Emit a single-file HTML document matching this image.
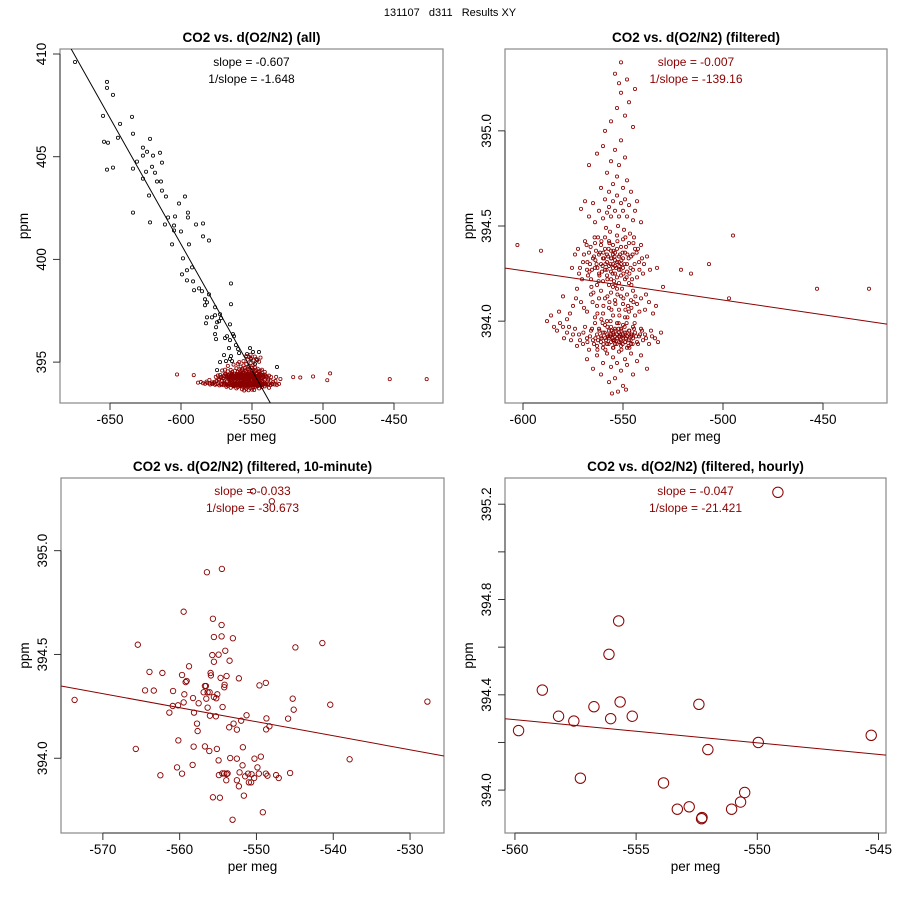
<!DOCTYPE html>
<html><head><meta charset="utf-8">
<style>
html,body{margin:0;padding:0;background:#fff;}
svg{display:block;font-family:"Liberation Sans",Arial,sans-serif;}
</style></head>
<body>
<svg id="chart" width="900" height="900" viewBox="0 0 900 900" xmlns="http://www.w3.org/2000/svg">
<rect x="0" y="0" width="900" height="900" fill="#fff"/>
<text x="450" y="16" font-size="11" text-anchor="middle" fill="#000" xml:space="preserve">131107   d311   Results XY</text>
</svg>
<script>
// ---------- DATA ----------
const allPts = [[-674.6,409.61],[-652.1,408.64],[-652.1,408.35],[-647.9,408.01],[-654.9,406.99],[-634.5,406.94],[-642.9,406.60],[-633.8,406.12],[-644.4,405.92],[-654.2,405.73],[-651.4,405.68],[-621.8,405.87],[-626.8,405.44],[-623.9,405.24],[-626.8,405.05],[-619.7,405.05],[-614.8,405.19],[-613.4,404.71],[-631.0,404.76],[-652.1,404.37],[-647.9,404.47],[-633.8,404.42],[-620.4,404.51],[-618.3,404.22],[-624.6,404.27],[-626.8,403.93],[-616.9,403.79],[-614.1,403.79],[-613.4,403.35],[-610.6,403.06],[-622.5,403.11],[-597.2,403.06],[-601.4,402.72],[-595.1,402.28],[-595.1,402.04],[-604.2,402.09],[-609.1,402.04],[-633.8,402.28],[-621.8,401.80],[-611.3,401.70],[-604.9,401.65],[-589.4,401.70],[-584.5,401.75],[-604.9,401.41],[-600.0,401.36],[-584.5,401.12],[-580.3,400.92],[-606.3,400.73],[-594.4,400.73],[-598.6,400.05],[-592.2,399.61],[-595.8,399.47],[-599.3,399.27],[-595.8,398.98],[-591.5,398.93],[-564.8,398.83],[-590.8,398.50],[-587.3,398.59],[-585.2,398.45],[-580.3,398.30],[-583.1,398.06],[-581.7,397.91],[-583.1,397.77],[-564.8,397.82],[-576.0,397.67],[-578.2,397.18],[-576.0,397.28],[-581.7,397.18],[-572.5,397.33],[-571.8,397.14],[-574.6,396.94],[-573.2,396.99],[-582.4,396.89],[-565.5,396.84],[-575.3,396.70],[-576.0,396.36],[-567.6,396.26],[-563.4,396.36],[-562.7,396.26],[-575.3,396.12],[-569.0,396.17],[-565.5,396.07],[-566.2,395.68],[-561.3,395.83],[-559.8,395.63],[-569.7,395.34],[-564.8,395.29],[-559.1,395.44],[-551.4,395.68],[-549.3,395.49],[-553.5,395.39],[-545.1,395.49],[-568.3,395.05],[-565.5,395.15],[-572.5,395.00],[-564.1,395.05],[-550.7,395.15],[-546.4,395.10],[-532.4,394.76],[-574.6,394.61],[-547.9,394.90]];

const filtPtsA = [[-570,394.31],[-568,394.27],[-567,394.36],[-566,394.22],[-565,394.33],[-564,394.41],[-564,394.28],[-563,394.19],[-562,394.35],[-562,394.25],[-561,394.30],[-561,394.40],[-560,394.21],[-560,394.33],[-559,394.27],[-559,394.38],[-559,394.44],[-558,394.24],[-558,394.31],[-558,394.35],[-557,394.29],[-557,394.19],[-557,394.42],[-556,394.33],[-556,394.26],[-556,394.37],[-556,394.22],[-555,394.30],[-555,394.35],[-555,394.28],[-555,394.40],[-555,394.18],[-554,394.32],[-554,394.25],[-554,394.36],[-554,394.29],[-553,394.31],[-553,394.23],[-553,394.38],[-553,394.45],[-552,394.27],[-552,394.34],[-552,394.20],[-551,394.30],[-551,394.39],[-551,394.24],[-550,394.33],[-550,394.28],[-550,394.43],[-549,394.22],[-549,394.36],[-548,394.30],[-548,394.26],[-547,394.41],[-547,394.20],[-546,394.34],[-545,394.27],[-544,394.38],[-543,394.23],[-542,394.31],[-540,394.25],[-538,394.34],[-566.5,394.30],[-563.5,394.37],[-560.5,394.26],[-557.5,394.34],[-554.5,394.21],[-551.5,394.35],[-548.5,394.39],[-545.5,394.22],[-562.5,394.44],[-558.5,394.49],[-556.5,394.47],[-552.5,394.50],[-549.5,394.48],[-546.5,394.46],[-544.5,394.44],[-541,394.40],[-569,394.42],[-572,394.25],[-574,394.35],[-573,394.17],
[-571,394.10],[-568,394.05],[-566,394.14],[-564,394.02],[-563,394.08],[-561,394.16],[-560,394.04],[-559,394.12],[-557,394.07],[-556,394.15],[-555,394.03],[-554,394.11],[-553,394.17],[-552,394.06],[-551,394.13],[-550,394.09],[-549,394.02],[-548,394.14],[-547,394.05],[-546,394.11],[-545,394.16],[-544,394.03],[-543,394.09],[-541,394.12],[-539,394.06],[-537,394.10],[-535,394.04],[-575,394.08],[-578,394.01],[-582,394.05],[-580,394.13],[-558,394.00],[-562,394.12],[-550.5,394.17],[-547.5,394.08],
[-572,393.93],[-570,393.88],[-569,393.97],[-568,393.91],[-567,393.85],[-566,393.95],[-565,393.90],[-564,393.99],[-563,393.87],[-563,393.93],[-562,393.96],[-561,393.89],[-561,393.92],[-560,393.94],[-560,393.86],[-559,393.91],[-559,393.98],[-558,393.93],[-558,393.88],[-557,393.95],[-557,393.91],[-556,393.89],[-556,393.93],[-556,393.97],[-555,393.90],[-555,393.94],[-555,393.86],[-554,393.92],[-554,393.96],[-554,393.88],[-553,393.91],[-553,393.93],[-553,393.99],[-552,393.89],[-552,393.94],[-552,393.92],[-551,393.90],[-551,393.96],[-551,393.87],[-550,393.93],[-550,393.91],[-550,393.98],[-549,393.89],[-549,393.94],[-548,393.92],[-548,393.86],[-547,393.95],[-547,393.90],[-546,393.93],[-546,393.88],[-545,393.97],[-545,393.91],[-544,393.94],[-543,393.89],[-542,393.92],[-541,393.96],[-540,393.90],[-539,393.93],[-537,393.88],[-536,393.95],[-534,393.91],[-531,393.94],[-574,393.96],[-576,393.90],[-578,393.94],[-580,393.97],[-583,393.95],[-557.5,393.92],[-554.5,393.90],[-551.5,393.93],[-548.5,393.91],[-545.5,393.93],
[-568,393.80],[-565,393.75],[-563,393.82],[-561,393.72],[-560,393.78],[-558,393.83],[-557,393.68],[-556,393.76],[-555,393.81],[-554,393.70],[-553,393.78],[-552,393.84],[-551,393.74],[-550,393.66],[-549,393.80],[-548,393.77],[-546,393.83],[-545,393.72],[-543,393.79],[-541,393.82],[-538,393.75],[-555.5,393.62],[-552.5,393.63],[-548.5,393.64],
[-567,394.55],[-565,394.62],[-564,394.52],[-562,394.58],[-561,394.70],[-560,394.54],[-559,394.64],[-558,394.57],[-558,394.78],[-557,394.60],[-557,394.68],[-556,394.55],[-556,394.84],[-555,394.63],[-555,394.72],[-554,394.58],[-554,394.90],[-553,394.66],[-553,394.76],[-552,394.55],[-552,394.82],[-551,394.62],[-551,394.95],[-550,394.70],[-550,394.58],[-549,394.64],[-549,394.86],[-548,394.55],[-548,394.74],[-547,394.61],[-546,394.68],[-545,394.53],[-544,394.58],[-543,394.63],[-541,394.52],[-569,394.63],[-571,394.59],[-563,394.88],[-559,395.00],[-556,395.05],[-553,395.12],[-551,395.20],[-549,395.08],[-547,395.15],[-545,395.02],[-554,395.30],[-551,395.36],[-552,395.25],[-548,395.27],[-544,395.22],[-560,394.92],[-567,394.82],
[-602.8,394.40],[-591,394.37],[-588,394.0],[-584.5,393.97],[-521,394.27],[-516,394.25],[-507,394.3],[-497,394.12],[-495,394.45],[-453,394.17],[-427,394.17],[-530,394.18],[-533,394.28]];

const filtPtsB = [[-571.5,394.28],[-569.5,394.35],[-567.5,394.24],[-566.2,394.39],[-565.5,394.27],[-564.5,394.34],[-563.2,394.30],[-562.2,394.21],[-561.5,394.36],[-560.2,394.29],[-559.5,394.33],[-558.2,394.27],[-557.2,394.38],[-556.2,394.30],[-555.2,394.25],[-554.2,394.34],[-553.5,394.28],[-552.2,394.31],[-551.2,394.27],[-550.2,394.36],[-549.2,394.30],[-548.2,394.23],[-547.2,394.33],[-546.2,394.28],[-545.2,394.35],[-544.2,394.30],[-543.2,394.36],[-541.8,394.27],[-539.5,394.30],[-565.8,394.18],[-561.8,394.24],[-557.8,394.22],[-553.8,394.19],[-549.8,394.25],[-545.8,394.19],[-568.2,394.40],[-564.2,394.44],[-560.8,394.42],[-556.8,394.41],[-552.8,394.42],[-548.8,394.44],[-544.8,394.41],[-559.8,394.36],[-555.8,394.33],[-551.8,394.29],[-547.8,394.35],[-563.8,394.32],[-567.8,394.31],[-570.5,394.22],[-575.5,394.28],[-542.5,394.38],[-540.5,394.33],[-558.8,394.30],[-554.8,394.37],[-550.8,394.32],[-546.8,394.25],[-562.8,394.28],[-566.8,394.26],[-572.5,394.38],[-536.5,394.27],
[-569.5,394.07],[-565.2,394.10],[-562.8,394.04],[-559.8,394.08],[-557.8,394.13],[-555.8,394.06],[-553.8,394.09],[-551.8,394.03],[-549.8,394.12],[-547.8,394.02],[-545.8,394.07],[-543.8,394.13],[-541.8,394.05],[-538.5,394.14],[-573.5,394.12],[-576.5,394.04],[-560.8,394.01],[-556.8,394.10],[-552.8,394.14],[-548.8,394.06],[-544.8,394.10],[-564.8,394.15],[-533.5,394.08],[-586,394.03],
[-571.5,393.90],[-569.8,393.94],[-567.8,393.89],[-566.5,393.92],[-565.5,393.96],[-564.5,393.88],[-563.8,393.91],[-562.5,393.90],[-561.8,393.95],[-560.8,393.91],[-559.8,393.88],[-559.2,393.94],[-558.5,393.90],[-557.8,393.97],[-557.2,393.88],[-556.5,393.92],[-555.8,393.95],[-555.2,393.91],[-554.8,393.93],[-554.2,393.90],[-553.8,393.95],[-553.2,393.88],[-552.8,393.91],[-552.2,393.96],[-551.8,393.92],[-551.2,393.89],[-550.8,393.95],[-550.2,393.88],[-549.8,393.92],[-549.2,393.97],[-548.8,393.89],[-548.2,393.94],[-547.8,393.92],[-547.2,393.87],[-546.8,393.95],[-546.2,393.90],[-545.8,393.92],[-545.2,393.88],[-544.5,393.96],[-543.5,393.92],[-542.5,393.88],[-541.5,393.93],[-540.5,393.95],[-538.5,393.91],[-535.5,393.92],[-532.5,393.89],[-573,393.87],[-575,393.93],[-577,393.97],[-579.5,393.91],[-581.5,393.99],[-558.8,393.85],[-554.8,393.86],[-550.8,393.85],[-546.8,393.86],[-562.8,393.85],[-556.2,394.00],[-552.2,393.99],[-548.2,393.99],[-560.2,393.99],[-544.2,393.99]];

const tenMinPts = [[-573.68,394.281],[-565.45,394.547],[-565.71,394.045],[-563.93,394.416],[-562.25,394.411],[-564.5,394.327],[-563.37,394.326],[-562.51,393.918],[-561.34,394.220],[-560.86,394.324],[-560.9,394.252],[-560.21,394.255],[-560.17,394.086],[-560.34,393.956],[-559.69,393.926],[-559.48,394.706],[-559.69,394.401],[-559.22,394.367],[-559.09,394.372],[-559.39,394.308],[-559.48,394.269],[-558.78,394.443],[-558.26,394.29],[-558.18,394.056],[-558.31,393.968],[-558.13,394.22],[-557.74,394.167],[-557.66,394.131],[-557.53,394.265],[-556.71,394.057],[-556.14,394.035],[-556.53,394.287],[-556.36,394.244],[-556.88,394.318],[-556.71,394.348],[-556.58,394.348],[-556.36,394.318],[-556.1,394.318],[-556.06,394.205],[-556.45,394.896],[-555.67,394.672],[-555.54,394.584],[-555.54,394.465],[-555.75,394.497],[-555.97,394.411],[-555.93,394.399],[-554.5,394.912],[-554.54,394.642],[-554.54,394.587],[-554.93,394.499],[-554.06,394.518],[-553.5,394.47],[-553.07,394.578],[-555.54,394.295],[-555.23,394.289],[-555.1,394.308],[-555.28,394.202],[-554.41,394.247],[-554.67,394.387],[-554.15,394.354],[-554.19,394.342],[-553.89,394.396],[-555.15,394.045],[-554.93,393.99],[-554.89,393.919],[-554.45,393.927],[-554.19,393.927],[-553.89,393.924],[-553.76,393.927],[-553.93,393.894],[-555.67,393.812],[-554.76,393.81],[-553.11,393.704],[-553.55,394.149],[-552.98,394.167],[-552.55,394.138],[-551.99,394.181],[-551.29,394.207],[-552.29,394.385],[-551.77,394.053],[-553.42,394.001],[-552.55,393.998],[-551.81,393.966],[-552.2,393.932],[-551.47,393.913],[-551.08,393.926],[-550.99,393.884],[-550.69,393.884],[-550.64,393.923],[-550.3,393.905],[-549.87,393.956],[-549.69,393.926],[-552.55,393.894],[-552.29,393.865],[-551.64,393.82],[-550.26,393.998],[-549.43,394.008],[-549.61,394.351],[-548.78,394.363],[-548.7,394.192],[-548.74,394.139],[-548.31,394.154],[-548.78,393.926],[-548.57,393.916],[-547.44,393.919],[-547.1,393.905],[-545.62,393.929],[-545.88,394.191],[-545.28,394.287],[-545.15,394.234],[-544.93,394.534],[-541.42,394.555],[-540.39,394.258],[-537.87,393.995],[-527.74,394.273],[-549.17,393.74],[-550.43,395.286],[-548.0,395.238]];

const hourlyPts = [[-559.85,394.25],[-558.87,394.42],[-558.2,394.31],[-557.57,394.29],[-557.3,394.05],[-556.74,394.35],[-556.12,394.57],[-555.72,394.71],[-556.05,394.30],[-555.66,394.37],[-555.16,394.31],[-553.87,394.03],[-553.3,393.92],[-552.81,393.93],[-552.41,394.36],[-552.3,393.88],[-552.28,393.885],[-552.04,394.17],[-551.06,393.92],[-550.69,393.95],[-550.52,393.99],[-549.96,394.20],[-549.15,395.25],[-545.30,394.23]];

// regression lines: co2 = intercept + slope * permeg
const lineIntercepts = [327.0, 393.341, 390.458, 388.847];
const lineSlopes = [-0.1229, -0.00154, -0.00676, -0.00973];
const slopeTexts = ["slope = -0.607","slope = -0.007","slope = -0.033","slope = -0.047"];
const invSlopeTexts = ["1/slope = -1.648","1/slope = -139.16","1/slope = -30.673","1/slope = -21.421"];
const panelTitles = ["CO2 vs. d(O2/N2) (all)","CO2 vs. d(O2/N2) (filtered)","CO2 vs. d(O2/N2) (filtered, 10-minute)","CO2 vs. d(O2/N2) (filtered, hourly)"];
const xTicks1 = [-650,-600,-550,-500,-450];
const yTicks1 = [395,400,405,410];
const xTicks2 = [-600,-550,-500,-450];
const yTicks2 = [394.0,394.5,395.0];
const xTicks3 = [-570,-560,-550,-540,-530];
const yTicks3 = [394.0,394.5,395.0];
const xTicks4 = [-560,-555,-550,-545];
const yTicks4 = [394.0,394.2,394.4,394.6,394.8,395.0,395.2];
const yLabels4 = ["394.0","","394.4","","394.8","","395.2"];
const filtPts = filtPtsA.concat(filtPtsB);

// ---------- LAYOUT ----------
const NS = "http://www.w3.org/2000/svg";
const svg = document.getElementById('chart');
const RED = "#8B0000";
function mk(tag, attrs, parent){
  const e = document.createElementNS(NS, tag);
  for (const k in attrs) e.setAttribute(k, attrs[k]);
  (parent||svg).appendChild(e);
  return e;
}
const panels = [
  {L:60,R:443,T:49,B:403,xd:[-685.2,-415.5],yd:[393.01,410.243],xt:xTicks1,yt:yTicks1,yl:yTicks1.map(String),lineColor:"#000",textColor:"#000"},
  {L:505,R:887,T:49,B:403,xd:[-609,-418],yd:[393.57,395.43],xt:xTicks2,yt:yTicks2,yl:yTicks2.map(v=>v.toFixed(1)),lineColor:RED,textColor:RED},
  {L:61,R:444,T:478,B:833,xd:[-575.45,-525.58],yd:[393.64,395.35],xt:xTicks3,yt:yTicks3,yl:yTicks3.map(v=>v.toFixed(1)),lineColor:RED,textColor:RED},
  {L:505,R:886,T:478,B:833,xd:[-560.41,-544.69],yd:[393.82,395.31],xt:xTicks4,yt:yTicks4,yl:yLabels4,lineColor:RED,textColor:RED}
];
panels.forEach((p,i)=>{
  p.sx = v => p.L + (v - p.xd[0])/(p.xd[1]-p.xd[0])*(p.R-p.L);
  p.sy = v => p.B - (v - p.yd[0])/(p.yd[1]-p.yd[0])*(p.B-p.T);
  const g = mk('g',{});
  
  
  p.g = g;
  const cp = mk('clipPath',{id:'clip'+i}, g);
  mk('rect',{x:p.L,y:p.T,width:p.R-p.L,height:p.B-p.T}, cp);
  const box = mk('rect',{x:p.L,y:p.T,width:p.R-p.L,height:p.B-p.T,fill:'none',stroke:'#888','stroke-width':1.2}, g);
  
  
  const cx = (p.L+p.R)/2;
  const title = mk('text',{x:cx,y:p.T-7,'font-size':13.5,'font-weight':'bold','text-anchor':'middle',fill:'#000'}, g);
  title.textContent = panelTitles[i];
  
  
  const xa = mk('g',{}, g);
  
  
  const x0 = p.sx(p.xt[0]), x1 = p.sx(p.xt[p.xt.length-1]);
  mk('line',{x1:x0,y1:p.B,x2:x1,y2:p.B,stroke:'#333','stroke-width':1}, xa);
  p.xt.forEach(v=>{
    const x = p.sx(v);
    mk('line',{x1:x,y1:p.B,x2:x,y2:p.B+7,stroke:'#333','stroke-width':1}, xa);
    const t = mk('text',{x:x,y:p.B+21,'font-size':13.5,'text-anchor':'middle',fill:'#000'}, xa);
    t.textContent = String(v);
    
    
  });
  const xt = mk('text',{x:cx,y:p.B+38,'font-size':13.5,'text-anchor':'middle',fill:'#000'}, g);
  xt.textContent = 'per meg';
  
  
  const ya = mk('g',{}, g);
  
  
  const y0 = p.sy(p.yt[0]), y1 = p.sy(p.yt[p.yt.length-1]);
  mk('line',{x1:p.L,y1:y0,x2:p.L,y2:y1,stroke:'#333','stroke-width':1}, ya);
  p.yt.forEach((v,k)=>{
    const y = p.sy(v);
    mk('line',{x1:p.L-7,y1:y,x2:p.L,y2:y,stroke:'#333','stroke-width':1}, ya);
    if (p.yl[k]) {
      const t = mk('text',{x:0,y:0,'font-size':13.5,'text-anchor':'middle',fill:'#000',transform:`translate(${p.L-14},${y}) rotate(-90)`}, ya);
      t.textContent = p.yl[k];
      
      
    }
  });
  const yt = mk('text',{x:0,y:0,'font-size':13.5,'text-anchor':'middle',fill:'#000',transform:`translate(${p.L-32},${(p.T+p.B)/2}) rotate(-90)`}, g);
  yt.textContent = 'ppm';
  
  
  p.pg = mk('g',{'clip-path':`url(#clip${i})`}, g);
  
  
});

function drawPoints(p, pts, r, color, sw){
  pts.forEach(d=>{
    const c = mk('circle',{cx:p.sx(d[0]),cy:p.sy(d[1]),r:r,fill:'none',stroke:color,'stroke-width':sw}, p.pg);
    
    
  });
}
drawPoints(panels[0], allPts, 1.6, '#000', 0.8);
drawPoints(panels[0], filtPts, 1.6, RED, 0.8);
drawPoints(panels[1], filtPts, 1.6, RED, 0.8);
drawPoints(panels[2], tenMinPts, 2.7, RED, 0.9);
drawPoints(panels[3], hourlyPts, 5.2, RED, 1);

panels.forEach((p,i)=>{
  const a = lineIntercepts[i], b = lineSlopes[i];
  const ln = mk('line',{x1:p.sx(p.xd[0]),y1:p.sy(a+b*p.xd[0]),x2:p.sx(p.xd[1]),y2:p.sy(a+b*p.xd[1]),stroke:p.lineColor,'stroke-width':1,'clip-path':`url(#clip${i})`}, p.g);
  
  
  const cx = (p.L+p.R)/2;
  const t1 = mk('text',{x:cx,y:p.T+17,'font-size':12,'text-anchor':'middle',fill:p.textColor}, p.g);
  t1.textContent = slopeTexts[i];
  
  
  const t2 = mk('text',{x:cx,y:p.T+34,'font-size':12,'text-anchor':'middle',fill:p.textColor}, p.g);
  t2.textContent = invSlopeTexts[i];
  
  
});
</script>
</body></html>
